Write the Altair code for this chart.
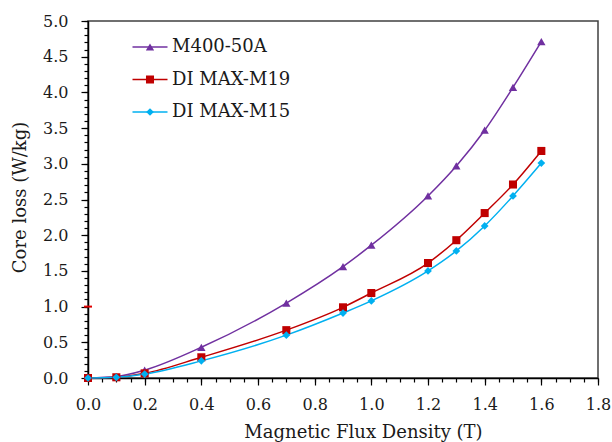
import altair as alt
import pandas as pd

# ---- data ----
flux = [0.0, 0.1, 0.2, 0.4, 0.7, 0.9, 1.0, 1.2, 1.3, 1.4, 1.5, 1.6]
m400_50a = [0.0, 0.02, 0.11, 0.43, 1.05, 1.56, 1.86, 2.55, 2.97, 3.47, 4.07, 4.71]
di_max_m19 = [0.0, 0.01, 0.065, 0.29, 0.67, 0.99, 1.19, 1.61, 1.93, 2.31, 2.71, 3.18]
di_max_m15 = [0.0, 0.01, 0.055, 0.24, 0.60, 0.91, 1.08, 1.50, 1.78, 2.13, 2.55, 3.01]

series_names = ["M400-50A", "DI MAX-M19", "DI MAX-M15"]
series_colors = ["#7030A0", "#C00000", "#00B0F0"]
series_shapes = ["triangle-up", "square", "diamond"]
series_sizes = [70, 60, 45]

stray_x = [0.0]
stray_y = [1.0]

x_major = [0.0, 0.2, 0.4, 0.6, 0.8, 1.0, 1.2, 1.4, 1.6, 1.8]
y_major = [0.0, 0.5, 1.0, 1.5, 2.0, 2.5, 3.0, 3.5, 4.0, 4.5, 5.0]
x_minor = [round(i * 0.05, 2) for i in range(37)]
y_minor = [round(i * 0.1, 1) for i in range(51)]

rows = []
for name, vals in zip(series_names, [m400_50a, di_max_m19, di_max_m15]):
    for b, v in zip(flux, vals):
        rows.append({"B": b, "loss": v, "series": name})
df = pd.DataFrame(rows)
stray = pd.DataFrame({"B": stray_x, "loss": stray_y})

FONT = "DejaVu Serif"
TXT = "#1a1a1a"

xscale = alt.Scale(domain=[0, 1.8], nice=False, zero=False)
yscale = alt.Scale(domain=[0, 5], nice=False, zero=False)

x_axis = alt.Axis(
    values=x_major, format=".1f", title="Magnetic Flux Density (T)",
    orient="bottom", tickSize=7, labelPadding=11, labelFlush=False,
    labelOverlap=False, grid=False, titleX=275, titleY=59,
    titleBaseline="alphabetic",
)
y_axis = alt.Axis(
    values=y_major, format=".1f", title="Core loss (W/kg)",
    orient="left", tickSize=7, labelPadding=13, labelFlush=False,
    labelOverlap=False, grid=False, titleX=-63, titleY=176,
    titleAngle=270, titleBaseline="alphabetic", titleAlign="center",
)
x_minor_axis = alt.Axis(values=x_minor, labels=False, domain=False, ticks=True,
                        tickSize=4, grid=False, title=None, orient="bottom")
y_minor_axis = alt.Axis(values=y_minor, labels=False, domain=False, ticks=True,
                        tickSize=4, grid=False, title=None, orient="left")

legend_common = dict(
    orient="none", title=None, labelFont=FONT,
    labelColor=TXT, clipHeight=24, rowPadding=8.5, padding=0,
    legendY=14,
)

minor = alt.Chart(df).mark_point(opacity=0).encode(
    x=alt.X("B:Q", scale=xscale, axis=x_minor_axis),
    y=alt.Y("loss:Q", scale=yscale, axis=y_minor_axis),
)

lines = alt.Chart(df).mark_line(interpolate="monotone", strokeWidth=1.5).encode(
    x=alt.X("B:Q", scale=xscale, axis=x_axis),
    y=alt.Y("loss:Q", scale=yscale, axis=y_axis),
    stroke=alt.Stroke(
        "series:N",
        scale=alt.Scale(domain=series_names, range=series_colors),
        legend=alt.Legend(symbolType="stroke", symbolSize=1225,
                          symbolStrokeWidth=1.5, legendX=43.5, labelOffset=3.5,
                          labelFontSize=18, **legend_common),
    ),
)

marker_legend = dict(legendX=57.5, labelExpr="''", labelFontSize=1,
                     labelOffset=0, symbolStrokeWidth=0, **legend_common)

points = alt.Chart(df).mark_point(filled=True, opacity=1, strokeWidth=0).encode(
    x=alt.X("B:Q", scale=xscale, axis=None),
    y=alt.Y("loss:Q", scale=yscale, axis=None),
    fill=alt.Fill("series:N", scale=alt.Scale(domain=series_names, range=series_colors),
                  legend=alt.Legend(**marker_legend)),
    shape=alt.Shape("series:N", scale=alt.Scale(domain=series_names, range=series_shapes),
                    legend=alt.Legend(**marker_legend)),
    size=alt.Size("series:N", scale=alt.Scale(domain=series_names, range=series_sizes),
                  legend=alt.Legend(**marker_legend)),
)

stray_mark = alt.Chart(stray).mark_point(shape="stroke", size=64, strokeWidth=2,
                                         color="#E00000", opacity=1).encode(
    x=alt.X("B:Q", scale=xscale, axis=None),
    y=alt.Y("loss:Q", scale=yscale, axis=None),
)

chart = alt.layer(minor, lines, points, stray_mark).resolve_axis(
    x="independent", y="independent"
).resolve_scale(
    fill="independent", shape="independent", size="independent", stroke="independent"
).properties(
    width=510, height=357,
    autosize=alt.AutoSizeParams(type="none"),
    padding={"left": 88, "top": 21, "right": 14, "bottom": 64},
    background="white",
).configure_view(
    stroke="#404040", strokeWidth=1.5
).configure_axis(
    domainColor="#000000", domainWidth=1.5, tickColor="#000000", tickWidth=1.2,
    labelFont=FONT, labelFontSize=16, labelColor=TXT,
    titleFont=FONT, titleFontSize=18, titleColor=TXT, titleFontWeight="normal",
)

chart.save("out.html", embed_options={"renderer": "svg", "actions": False})
